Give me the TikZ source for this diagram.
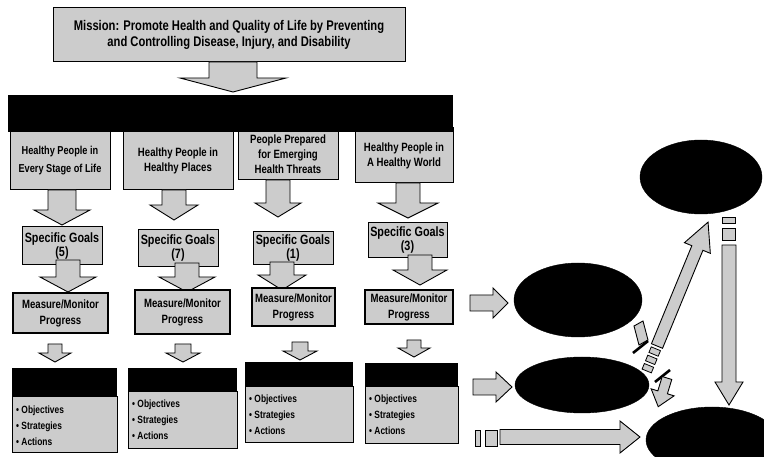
\documentclass[tikz,border=0pt]{standalone}
\usepackage{fontspec}
\setmainfont{Liberation Sans}[FakeStretch=0.8]
\usetikzlibrary{shapes.geometric}
\definecolor{boxgray}{gray}{0.80}
\tikzset{
  gbox/.style={draw=black, line width=1pt, fill=boxgray, align=center, inner sep=1pt,
    font=\bfseries\fontsize{9}{10.5}\selectfont},
  hbox/.style={gbox, font=\bfseries\fontsize{12}{15}\selectfont},
  sbox/.style={gbox, font=\bfseries\fontsize{13.5}{14}\selectfont},
  mbox/.style={gbox, line width=1.4pt, font=\bfseries\fontsize{12}{16}\selectfont},
  blackbar/.style={fill=black, draw=black, inner sep=0pt},
  bodybox/.style={draw=black, line width=1pt, fill=boxgray, inner sep=0pt},
  bullets/.style={align=left, inner sep=0pt, anchor=west, font=\bfseries\fontsize{10.5}{16}\selectfont},
  fatarr/.style={draw=black, line width=0.9pt, fill=boxgray, line join=miter},
  blob/.style={ellipse, fill=black, draw=black, inner sep=0pt},
  tbar/.style={line width=2.6pt, black},
  smallrect/.style={draw=black, line width=0.8pt, fill=boxgray}
}
% #1 start, #2 angle, #3 length, #4 shaft half width, #5 head half width, #6 head length
\newcommand\fatarrow[6]{%
  \begin{scope}[shift={#1},rotate=#2]
    \draw[fatarr] (0,-#4) -- ({#3-#6},-#4) -- ({#3-#6},-#5) -- (#3,0) -- ({#3-#6},#5) -- ({#3-#6},#4) -- (0,#4) -- cycle;
  \end{scope}}
\begin{document}
\begin{tikzpicture}[x=1pt,y=-1pt]
\useasboundingbox (0,0) rectangle (764,457);
\fill[white] (0,0) rectangle (764,457);

% mission
\node[gbox, minimum width=352, minimum height=54, font=\bfseries\fontsize{14}{15.5}\selectfont] (mission) at (229,35)
  {Mission: Promote Health and Quality of Life by Preventing\\and Controlling Disease, Injury, and Disability};
\fatarrow{(233,62)}{-90}{30}{24}{53}{14}

% column headers
\node[hbox, minimum width=100, minimum height=59, font=\bfseries\fontsize{11.5}{18}\selectfont] (h1) at (60,160.5) {Healthy People in\\Every Stage of Life};
\node[hbox, minimum width=110, minimum height=59] (h2) at (178,160.5) {Healthy People in\\Healthy Places};
\node[hbox, minimum width=100, minimum height=52] (h3) at (288,154) {People Prepared\\for Emerging\\Health Threats};
\node[hbox, minimum width=98, minimum height=55] (h4) at (404,155.5) {Healthy People in\\A Healthy World};
\node[blackbar, minimum width=444, minimum height=36] (bar) at (230,113) {};

% arrows row 1
\fatarrow{(62,190)}{-90}{35}{14}{28}{15}
\fatarrow{(174,190)}{-90}{30}{12}{24}{15}
\fatarrow{(278,180)}{-90}{37}{12}{23}{14}
\fatarrow{(408,183)}{-90}{35}{12}{30}{15}

% specific goals
\node[sbox, minimum width=80, minimum height=38] (s1) at (62,246) {Specific Goals\\(5)};
\node[sbox, minimum width=80, minimum height=37] (s2) at (178,248.5) {Specific Goals\\(7)};
\node[sbox, minimum width=80, minimum height=33] (s3) at (293,248.5) {Specific Goals\\(1)};
\node[sbox, minimum width=79, minimum height=35] (s4) at (407.5,240.5) {Specific Goals\\(3)};

% arrows row 2
\fatarrow{(68,260)}{-90}{32}{12}{28}{15}
\fatarrow{(187,263)}{-90}{29}{12}{28}{15}
\fatarrow{(282,262)}{-90}{28}{12}{24}{15}
\fatarrow{(420,255)}{-90}{30}{12}{27}{15}

% measure/monitor
\node[mbox, minimum width=95, minimum height=40] (m1) at (60.5,313) {Measure/Monitor\\Progress};
\node[mbox, minimum width=95, minimum height=44] (m2) at (182.5,312) {Measure/Monitor\\Progress};
\node[mbox, minimum width=83, minimum height=38] (m3) at (293.5,307) {Measure/Monitor\\Progress};
\node[mbox, minimum width=88, minimum height=34] (m4) at (409,307) {Measure/Monitor\\Progress};

% arrows row 3
\fatarrow{(55,344)}{-90}{18}{7}{16}{9}
\fatarrow{(183,344)}{-90}{18}{8}{17}{9}
\fatarrow{(300,342)}{-90}{18}{8}{17}{9}
\fatarrow{(414,340)}{-90}{17}{7}{16}{9}

% bottom boxes
\draw[bodybox] (12,397) rectangle (117,452);
\fill[black] (12,368) rectangle (117,397);
\node[bullets] (b1) at (16,426) {• Objectives\\• Strategies\\• Actions};
\draw[bodybox] (128,392) rectangle (237,448);
\fill[black] (128,368) rectangle (237,392);
\node[bullets] (b2) at (132,420) {• Objectives\\• Strategies\\• Actions};
\draw[bodybox] (245,387) rectangle (353,442);
\fill[black] (245,362) rectangle (353,387);
\node[bullets] (b3) at (249,415) {• Objectives\\• Strategies\\• Actions};
\draw[bodybox] (365,387) rectangle (458,443);
\fill[black] (365,363) rectangle (458,387);
\node[bullets] (b4) at (369,415) {• Objectives\\• Strategies\\• Actions};

% right side
\node[blob, minimum width=122, minimum height=74] (e1) at (701,177) {};
\node[blob, minimum width=128, minimum height=74] (e2) at (578,300) {};
\node[blob, minimum width=134, minimum height=56] (e3) at (582,385) {};
\node[blob, minimum width=132, minimum height=66] (e4) at (712,440) {};

\fatarrow{(470,303)}{0}{38}{8}{15}{15}
\fatarrow{(473,387)}{0}{39}{8}{15}{16}
\draw[smallrect] (475,430) rectangle (480,446);
\draw[smallrect] (485,430) rectangle (497,446);
\fatarrow{(500,437)}{0}{140}{7.5}{16}{20}

% diagonal arrow up to e1
\fatarrow{(657,346)}{67.6}{134}{6}{14}{28}
\begin{scope}[shift={(657,346)},rotate=67.6]
  \draw[smallrect] (-9,-5) rectangle (-3,5);
  \draw[smallrect] (-18,-5) rectangle (-12,5);
  \draw[smallrect] (-27,-5) rectangle (-21,5);
\end{scope}

% vertical arrow e1 -> e4
\draw[smallrect] (722,217) rectangle (735,223);
\draw[smallrect] (722,228) rectangle (735,240);
\fatarrow{(729,245)}{-90}{160}{7}{14}{23}

% stubs
\draw[fatarr] (634,326) -- (643,321) -- (648,340) -- (639,345) -- cycle;
\draw[tbar] (633,353) -- (648,341);
\draw[tbar] (655,382) -- (670,370);
\fatarrow{(667,378)}{-107}{30}{5}{12}{15}

\end{tikzpicture}
\end{document}
